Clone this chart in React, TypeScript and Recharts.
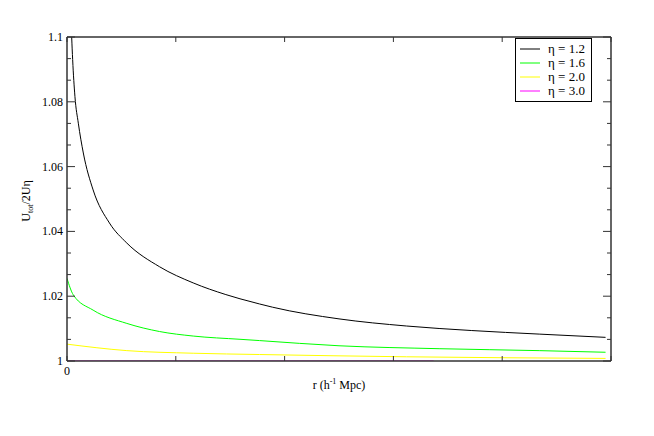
import React from 'react'
import { LineChart, Line, XAxis, YAxis, Legend } from 'recharts'

// r (h^-1 Mpc) and U_tot/2U_eta
const rEta12 = [0.02, 0.043, 0.052, 0.073, 0.104, 0.15, 0.24, 0.39, 0.55, 0.85, 1.16, 1.46, 1.59, 1.77, 1.89, 2.5, 3.12, 3.72, 4.34, 4.95]
const uEta12 = [1.125, 1.1, 1.093, 1.0816, 1.0734, 1.0642, 1.0528, 1.0426, 1.0364, 1.0291, 1.0241, 1.0205, 1.0192, 1.0176, 1.0166, 1.013, 1.0108, 1.0094, 1.0083, 1.0073]

const rEta16 = [0, 0.058, 0.24, 0.55, 0.85, 1.16, 1.59, 1.77, 2.5, 3.42, 4.34, 4.95]
const uEta16 = [1.0255, 1.0204, 1.0157, 1.0116, 1.0091, 1.0077, 1.0067, 1.0063, 1.0047, 1.0038, 1.0032, 1.0027]

const rEta20 = [0, 0.55, 1.16, 1.77, 3.12, 4.95]
const uEta20 = [1.0052, 1.0032, 1.0024, 1.002, 1.0013, 1.0008]

const rEta30 = [0, 3.37]
const uEta30 = [1, 1]

const yMajor = [1, 1.02, 1.04, 1.06, 1.08, 1.1]
const yMinor = [1.00667, 1.01333, 1.02667, 1.03333, 1.04667, 1.05333, 1.06667, 1.07333, 1.08667, 1.09333]
const yLabels = ['1', '1.02', '1.04', '1.06', '1.08', '1.1']
const xTicks = [0, 1, 2, 3, 4, 5]

const series = [
  { name: 'η = 1.2', color: '#000000', r: rEta12, u: uEta12 },
  { name: 'η = 1.6', color: '#00ff00', r: rEta16, u: uEta16 },
  { name: 'η = 2.0', color: '#ffff00', r: rEta20, u: uEta20 },
  { name: 'η = 3.0', color: '#ff00ff', r: rEta30, u: uEta30 },
]

const FONT = "'Liberation Serif', 'Times New Roman', 'DejaVu Serif', serif"
const AXIS = '#333'

const majorIndex = (v: number) => yMajor.findIndex(m => Math.abs(m - v) < 1e-6)

function LeftTick(props: any) {
  const { x, y, payload } = props
  const i = majorIndex(payload.value)
  const major = i >= 0
  return (
    <g>
      <line x1={x} x2={x + (major ? 8 : 4)} y1={y} y2={y} stroke={AXIS} />
      {major && (
        <text x={x - 4} y={y + 4} textAnchor="end" style={{ fontSize: 12, fontFamily: FONT }} fill="#000">
          {yLabels[i]}
        </text>
      )}
    </g>
  )
}

function RightTick(props: any) {
  const { x, y, payload } = props
  const major = majorIndex(payload.value) >= 0
  return <line x1={x} x2={x - (major ? 8 : 4)} y1={y} y2={y} stroke={AXIS} />
}

function BottomTick(props: any) {
  const { x, y, payload } = props
  return (
    <g>
      <line x1={x} x2={x} y1={y} y2={y - 5} stroke={AXIS} />
      {payload.value === 0 && (
        <text x={x} y={y + 14} textAnchor="middle" style={{ fontSize: 12, fontFamily: FONT }} fill="#000">0</text>
      )}
    </g>
  )
}

function TopTick(props: any) {
  const { x, y } = props
  return <line x1={x} x2={x} y1={y} y2={y + 5} stroke={AXIS} />
}

function LegendBox() {
  return (
    <div style={{ boxSizing: 'border-box', border: '1px solid #000', background: '#fff', padding: '3px 0 3px 4px', width: 77, fontFamily: FONT, fontSize: 13, lineHeight: '14px' }}>
      {series.map(s => (
        <div key={s.name} style={{ display: 'flex', alignItems: 'center', height: 14 }}>
          <svg width={20} height={4} style={{ marginRight: 8, flexShrink: 0 }}>
            <line x1={0} x2={20} y1={2} y2={2} stroke={s.color} strokeWidth={1} />
          </svg>
          <span style={{ whiteSpace: 'nowrap' }}>{s.name}</span>
        </div>
      ))}
    </div>
  )
}

export default function App() {
  return (
    <div style={{ position: 'absolute', left: 0, top: 0 }}>
      <LineChart width={654} height={436} margin={{ top: 0, right: 0, bottom: 0, left: 0 }}>
        <XAxis
          xAxisId="b"
          type="number"
          dataKey="r"
          domain={[0, 5]}
          ticks={xTicks}
          interval={0}
          height={75}
          allowDataOverflow
          tickSize={0}
          tickMargin={0}
          tickLine={false}
          tick={<BottomTick />}
          axisLine={{ stroke: AXIS, strokeWidth: 1.5 }}
          label={() => (
            <text x={339} y={389} textAnchor="middle" style={{ fontSize: 12, fontFamily: FONT }} fill="#000">
              <tspan>r (h</tspan>
              <tspan fontSize={8} dy={-5}>-1</tspan>
              <tspan dy={5}> Mpc)</tspan>
            </text>
          )}
        />
        <XAxis
          xAxisId="t"
          orientation="top"
          type="number"
          dataKey="r"
          domain={[0, 5]}
          ticks={xTicks}
          interval={0}
          height={37}
          allowDataOverflow
          tickSize={0}
          tickMargin={0}
          tickLine={false}
          tick={<TopTick />}
          axisLine={{ stroke: AXIS, strokeWidth: 1.5 }}
        />
        <YAxis
          yAxisId="l"
          type="number"
          domain={[1, 1.1]}
          ticks={[...yMajor, ...yMinor]}
          interval={0}
          width={67}
          allowDataOverflow
          tickSize={0}
          tickMargin={0}
          tickLine={false}
          tick={<LeftTick />}
          axisLine={{ stroke: AXIS, strokeWidth: 1.5 }}
          label={() => (
            <text x={30} y={201} transform="rotate(-90 30 201)" textAnchor="middle" style={{ fontSize: 12, fontFamily: FONT }} fill="#000">
              <tspan>U</tspan>
              <tspan fontSize={8} dy={3}>tot</tspan>
              <tspan dy={-3}>/2Uη</tspan>
            </text>
          )}
        />
        <YAxis
          yAxisId="r"
          orientation="right"
          type="number"
          domain={[1, 1.1]}
          ticks={[...yMajor, ...yMinor]}
          interval={0}
          width={43}
          allowDataOverflow
          tickSize={0}
          tickMargin={0}
          tickLine={false}
          tick={<RightTick />}
          axisLine={{ stroke: AXIS, strokeWidth: 1.5 }}
        />
        <Legend
          layout="vertical"
          align="center"
          verticalAlign="middle"
          content={<LegendBox />}
          wrapperStyle={{ position: 'absolute', left: 515, top: 38, width: 'auto', height: 'auto' }}
        />
        {series.map(s => (
          <Line
            key={s.name}
            xAxisId="b"
            yAxisId="l"
            data={s.r.map((r, i) => ({ r, u: s.u[i] }))}
            dataKey="u"
            name={s.name}
            type="monotone"
            stroke={s.color}
            strokeWidth={1}
            dot={false}
            activeDot={false}
            isAnimationActive={false}
          />
        ))}
      </LineChart>
    </div>
  )
}
